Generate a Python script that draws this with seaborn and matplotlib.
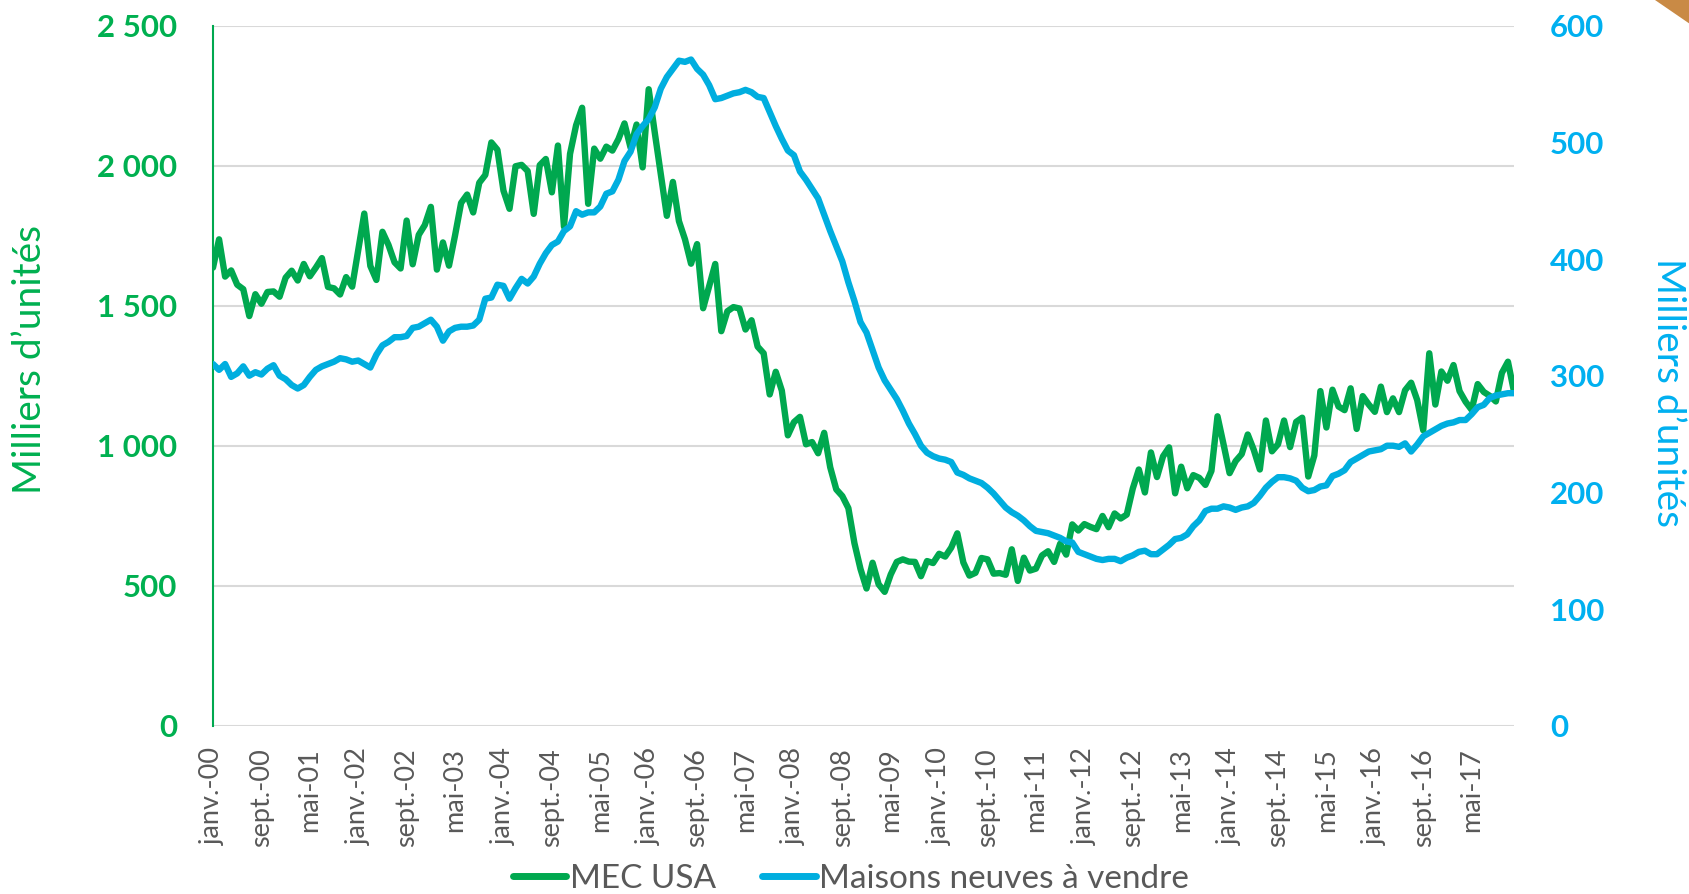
import numpy as np
import pandas as pd
import matplotlib
matplotlib.use("Agg")
import matplotlib.pyplot as plt
import seaborn as sns
from matplotlib.patches import Polygon
from matplotlib.ticker import FuncFormatter

# ---------------- data (monthly, janv. 2000 -> déc. 2017) ----------------
mec_usa = [
    1636, 1737, 1604, 1626, 1575, 1559, 1463, 1541, 1507, 1549, 1551, 1532,  # 2000
    1600, 1625, 1590, 1649, 1605, 1636, 1670, 1567, 1562, 1540, 1602, 1568,  # 2001
    1698, 1829, 1642, 1592, 1764, 1717, 1655, 1633, 1804, 1648, 1753, 1788,  # 2002
    1853, 1629, 1726, 1643, 1751, 1867, 1897, 1833, 1939, 1967, 2083, 2057,  # 2003
    1911, 1846, 1998, 2003, 1981, 1828, 2002, 2024, 1905, 2072, 1782, 2042,  # 2004
    2144, 2207, 1864, 2061, 2025, 2068, 2054, 2095, 2151, 2065, 2147, 1994,  # 2005
    2273, 2119, 1969, 1821, 1942, 1802, 1737, 1650, 1720, 1491, 1570, 1649,  # 2006
    1409, 1480, 1495, 1490, 1415, 1448, 1354, 1330, 1183, 1264, 1197, 1037,  # 2007
    1084, 1103, 1005, 1013, 973, 1046, 923, 844, 820, 777, 652, 560,         # 2008
    490, 582, 505, 478, 540, 585, 594, 586, 585, 534, 588, 581,              # 2009
    614, 604, 636, 687, 583, 536, 546, 599, 594, 543, 545, 539,              # 2010
    630, 517, 600, 554, 561, 608, 623, 585, 650, 611, 719, 697,              # 2011
    720, 710, 702, 749, 709, 758, 740, 754, 847, 915, 833, 976,              # 2012
    888, 962, 994, 830, 925, 848, 895, 885, 860, 910, 1105, 1005,            # 2013
    902, 945, 970, 1040, 985, 915, 1090, 980, 1005, 1090, 995, 1085,         # 2014
    1100, 890, 965, 1195, 1065, 1200, 1140, 1127, 1205, 1060, 1177, 1147,    # 2015
    1121, 1211, 1120, 1169, 1120, 1198, 1225, 1163, 1055, 1330, 1147, 1265,  # 2016
    1232, 1288, 1195, 1157, 1128, 1220, 1192, 1178, 1158, 1260, 1300, 1193,  # 2017
]

maisons_a_vendre = [
    310, 305, 310, 299, 302, 308, 300, 303, 301, 306, 309, 300,  # 2000
    297, 292, 289, 292, 299, 305, 308, 310, 312, 315, 314, 312,  # 2001
    313, 310, 307, 318, 326, 329, 333, 333, 334, 341, 342, 345,  # 2002
    348, 342, 330, 338, 341, 342, 342, 343, 348, 366, 367, 378,  # 2003
    377, 366, 375, 383, 379, 385, 396, 405, 412, 415, 424, 428,  # 2004
    441, 438, 440, 440, 445, 456, 458, 468, 484, 492, 507, 514,  # 2005
    520, 530, 546, 556, 563, 570, 569, 571, 563, 558, 549, 537,  # 2006
    538, 540, 542, 543, 545, 543, 539, 538, 526, 514, 503, 493,  # 2007
    489, 475, 468, 460, 452, 438, 424, 411, 398, 380, 364, 346,  # 2008
    337, 322, 307, 296, 288, 280, 270, 259, 250, 240, 234, 231,  # 2009
    229, 228, 226, 217, 215, 212, 210, 208, 204, 199, 193, 187,  # 2010
    183, 180, 176, 171, 167, 166, 165, 163, 161, 158, 157, 149,  # 2011
    147, 145, 143, 142, 143, 143, 141, 144, 146, 149, 150, 147,  # 2012
    147, 151, 155, 160, 161, 164, 171, 176, 184, 186, 186, 188,  # 2013
    187, 185, 187, 188, 191, 197, 204, 209, 213, 213, 212, 210,  # 2014
    204, 201, 202, 205, 206, 214, 216, 219, 226, 229, 232, 235,  # 2015
    236, 237, 240, 240, 239, 242, 235, 241, 248, 251, 254, 257,  # 2016
    259, 260, 262, 262, 267, 273, 275, 281, 283, 284, 285, 285,  # 2017
]

tick_labels = [
    "janv.-00", "sept.-00", "mai-01", "janv.-02", "sept.-02", "mai-03",
    "janv.-04", "sept.-04", "mai-05", "janv.-06", "sept.-06", "mai-07",
    "janv.-08", "sept.-08", "mai-09", "janv.-10", "sept.-10", "mai-11",
    "janv.-12", "sept.-12", "mai-13", "janv.-14", "sept.-14", "mai-15",
    "janv.-16", "sept.-16", "mai-17",
]
series_names = ["MEC USA", "Maisons neuves à vendre"]
axis_title = "Milliers d\u2019unités"

# ---------------- style ----------------
GREEN_LINE = "#00A84F"
BLUE_LINE = "#00AEDF"
GREEN_TXT = "#00B050"
BLUE_TXT = "#00B0F0"
GREY_TXT = "#595959"
GRID = "#D9D9D9"

sns.set_theme(style="white")
plt.rcParams["font.family"] = ["Lato", "DejaVu Sans"]

n = len(mec_usa)
df = pd.DataFrame({
    "mois": np.arange(n),
    series_names[0]: mec_usa,
    series_names[1]: maisons_a_vendre,
})

W, H = 1690, 894
fig = plt.figure(figsize=(W / 100, H / 100), dpi=100)
fig.patch.set_facecolor("white")
left, right, top, bottom = 213, 1514, 25.7, 725.7
ax = fig.add_axes([left / W, 1 - bottom / H, (right - left) / W, (bottom - top) / H])
ax2 = ax.twinx()

sns.lineplot(data=df, x="mois", y=series_names[0], ax=ax, color=GREEN_LINE,
             linewidth=4.6, legend=False, solid_joinstyle="round", solid_capstyle="round")
sns.lineplot(data=df, x="mois", y=series_names[1], ax=ax2, color=BLUE_LINE,
             linewidth=4.6, legend=False, solid_joinstyle="round", solid_capstyle="round")

ax.set_xlim(0, n - 1)
ax.set_ylim(0, 2500)
ax2.set_ylim(0, 600)
ax.set_yticks(np.arange(0, 2501, 500))
ax2.set_yticks(np.arange(0, 601, 100))
ax.set_xticks(np.arange(0, n, 8)[:len(tick_labels)])
ax.set_xticklabels(tick_labels, rotation=90, fontsize=19.5, color=GREY_TXT)

fmt = FuncFormatter(lambda v, p: f"{int(v):,}".replace(",", " "))
ax.yaxis.set_major_formatter(fmt)
ax2.yaxis.set_major_formatter(fmt)

ax.tick_params(axis="y", length=0, pad=26, labelsize=22.5, labelcolor=GREEN_TXT)
ax2.tick_params(axis="y", length=0, pad=26, labelsize=22.5, labelcolor=BLUE_TXT)
ax.tick_params(axis="x", length=0, pad=16)
for t in ax.get_yticklabels():
    t.set_fontweight("bold")
for t in ax2.get_yticklabels():
    t.set_fontweight("bold")

ax.set_xlabel("")
ax.set_ylabel("")
ax2.set_ylabel("")

ax.yaxis.grid(True, color=GRID, linewidth=1.5)
ax.xaxis.grid(False)
ax2.grid(False)
for s in ["top", "right", "bottom"]:
    ax.spines[s].set_visible(False)
ax.spines["left"].set_color(GREEN_LINE)
ax.spines["left"].set_linewidth(1.5)
for s in ax2.spines.values():
    s.set_visible(False)

fig.text(30 / W, 1 - 360 / H, axis_title, rotation=90, ha="center", va="center",
         fontsize=28, color=GREEN_TXT)
fig.text(1668 / W, 1 - 393 / H, axis_title, rotation=270, ha="center", va="center",
         fontsize=28, color=BLUE_TXT)

handles = [ax.get_lines()[0], ax2.get_lines()[0]]
leg = fig.legend(handles, series_names, loc="center", bbox_to_anchor=(851 / W, 1 - 879 / H),
                 ncol=2, frameon=False, fontsize=24, handlelength=1.6, handletextpad=0.1,
                 columnspacing=1.4, labelcolor=GREY_TXT, borderpad=0, borderaxespad=0)
for l in leg.get_lines():
    l.set_linewidth(5)

# decorative corner
fig.patches.append(Polygon([[1655 / W, 1], [1, 1], [1, 1 - 24 / H]], closed=True,
                           transform=fig.transFigure, facecolor="#C98A45", edgecolor="none"))

fig.savefig("out.png", dpi=100, facecolor="white")
